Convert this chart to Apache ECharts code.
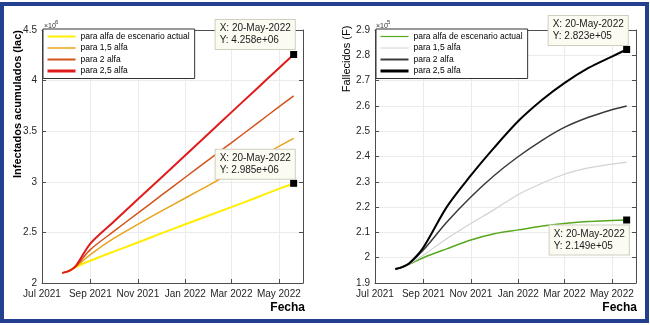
<!DOCTYPE html>
<html>
<head>
<meta charset="utf-8">
<script src="https://cdn.jsdelivr.net/npm/echarts@6/dist/echarts.min.js"></script>
<style>
html, body { margin: 0; padding: 0; background: #fff; }
#chart { width: 650px; height: 325px; }
</style>
</head>
<body>
<div id="chart"></div>
<script>
// fechas de muestreo
const fechas = ['2021-07-27', '2021-08-05', '2021-08-14', '2021-09-01', '2021-10-01', '2021-11-01', '2021-12-01',
  '2022-01-01', '2022-02-01', '2022-03-01', '2022-04-01', '2022-05-01', '2022-05-20'];

const nombres = ['para alfa de escenario actual', 'para 1,5 alfa', 'para 2 alfa', 'para 2,5 alfa'];

// infectados acumulados (x10^6)
const infActual = [2.10, 2.12, 2.16, 2.22, 2.31, 2.40, 2.49, 2.58, 2.67, 2.75, 2.84, 2.93, 2.985];
const inf15 = [2.10, 2.12, 2.165, 2.28, 2.44, 2.58, 2.71, 2.84, 2.97, 3.09, 3.22, 3.35, 3.43];
const inf2 = [2.10, 2.12, 2.17, 2.33, 2.51, 2.69, 2.865, 3.045, 3.225, 3.385, 3.565, 3.74, 3.85];
const inf25 = [2.10, 2.12, 2.175, 2.39, 2.605, 2.827, 3.04, 3.263, 3.485, 3.686, 3.908, 4.123, 4.258];

// fallecidos (x10^5)
const falActual = [1.955, 1.963, 1.975, 2.00, 2.035, 2.07, 2.095, 2.11, 2.125, 2.135, 2.143, 2.147, 2.149];
const fal15 = [1.955, 1.963, 1.976, 2.01, 2.075, 2.135, 2.19, 2.25, 2.295, 2.33, 2.355, 2.37, 2.378];
const fal2 = [1.955, 1.963, 1.977, 2.03, 2.14, 2.24, 2.325, 2.40, 2.465, 2.515, 2.555, 2.585, 2.60];
const fal25 = [1.955, 1.963, 1.978, 2.04, 2.20, 2.325, 2.435, 2.54, 2.625, 2.69, 2.75, 2.795, 2.823];

// ejes
const ticksFecha = ['2021-07-01', '2021-09-01', '2021-11-01', '2022-01-01', '2022-03-01', '2022-05-01'];
const etiquetasFecha = ['Jul 2021', 'Sep 2021', 'Nov 2021', 'Jan 2022', 'Mar 2022', 'May 2022'];
const rangoFecha = ['2021-07-01', '2022-06-01'];
const rangoInf = [2, 4.5];
const rangoFal = [1.9, 2.9];

const fuente = '"Liberation Sans", Arial, sans-serif';
const meses = ['Jan', 'Feb', 'Mar', 'Apr', 'May', 'Jun', 'Jul', 'Aug', 'Sep', 'Oct', 'Nov', 'Dec'];

function aTiempo(s) {
  const p = s.split('-').map(Number);
  return Date.UTC(p[0], p[1] - 1, p[2]);
}
const tiemposTick = ticksFecha.map(aTiempo);
const tiempos = fechas.map(aTiempo);

function fechaTexto(s) {
  const p = s.split('-').map(Number);
  return (p[2] < 10 ? '0' : '') + p[2] + '-' + meses[p[1] - 1] + '-' + p[0];
}
function expTexto(v) {
  return v.toExponential(3).replace(/e\+(\d)$/, 'e+0$1');
}

const gris = '#4d4d4d';

// eje de fechas como eje numerico (ms) con ticks fijos cada dos meses
function ejeX(grid, pos, conEtiquetas) {
  return {
    type: 'value', gridIndex: grid, position: pos,
    min: aTiempo(rangoFecha[0]), max: aTiempo(rangoFecha[1]),
    axisLine: { show: true, onZero: false, lineStyle: { color: gris, width: 1 } },
    axisTick: { show: true, inside: true, length: 4, customValues: tiemposTick, lineStyle: { color: gris } },
    axisLabel: {
      show: conEtiquetas, customValues: tiemposTick, fontSize: 10, color: '#262626', margin: 6,
      fontFamily: fuente, hideOverlap: false,
      formatter: v => etiquetasFecha[tiemposTick.indexOf(v)] || ''
    },
    splitLine: { show: conEtiquetas, lineStyle: { color: '#ebebeb', width: 1 } }
  };
}

function ejeY(grid, pos, rango, paso, conEtiquetas) {
  return {
    type: 'value', gridIndex: grid, position: pos,
    min: rango[0], max: rango[1], interval: paso,
    axisLine: { show: true, onZero: false, lineStyle: { color: gris, width: 1 } },
    axisTick: { show: true, inside: true, length: 4, lineStyle: { color: gris } },
    axisLabel: { show: conEtiquetas, fontSize: 10, color: '#262626', margin: 5, fontFamily: fuente },
    splitLine: { show: conEtiquetas, lineStyle: { color: '#ebebeb', width: 1 } }
  };
}

function serie(nombre, xi, yi, valores, color, ancho) {
  return {
    name: nombre, type: 'line', xAxisIndex: xi, yAxisIndex: yi,
    data: tiempos.map((t, i) => [t, valores[i]]),
    symbol: 'none', smooth: 0.3, silent: true,
    lineStyle: { color: color, width: ancho },
    itemStyle: { color: color }
  };
}

function marca(valores, escala, offset) {
  const n = fechas.length - 1;
  const v = valores[n];
  return {
    symbol: 'rect', symbolSize: 7, silent: true,
    itemStyle: { color: '#000' },
    label: {
      show: true, position: 'inside', align: 'left', verticalAlign: 'middle', offset: offset,
      formatter: 'X: ' + fechaTexto(fechas[n]) + '\nY: ' + expTexto(v * escala),
      backgroundColor: '#fbfbf1', borderColor: '#cfcfbf', borderWidth: 1,
      padding: [3, 4, 2, 4], lineHeight: 12, fontSize: 10, color: '#1a1a1a', fontFamily: fuente
    },
    data: [{ coord: [tiempos[n], v] }]
  };
}

const myChart = echarts.init(document.getElementById('chart'));

const sActual = serie(nombres[0], 0, 0, infActual, '#ffee00', 2);
sActual.markPoint = marca(infActual, 1e6, [-78, -19]);
const s25 = serie(nombres[3], 0, 0, inf25, '#e01b1b', 2);
s25.markPoint = marca(inf25, 1e6, [-78, -20]);

const fActual = serie('F:' + nombres[0], 2, 2, falActual, '#58a81e', 1.5);
fActual.markPoint = marca(falActual, 1e5, [-77, 20]);
const f25 = serie('F:' + nombres[3], 2, 2, fal25, '#000000', 2);
f25.markPoint = marca(fal25, 1e5, [-78, -19]);

function leyenda(izq, prefijo, anchos) {
  return {
    orient: 'vertical', left: izq, top: 29, selectedMode: false,
    itemWidth: 28, itemHeight: 10, itemGap: 2.5, itemTextGap: 3,
    padding: [3, 5, 3, 3], backgroundColor: '#fff', borderColor: '#333', borderWidth: 1,
    itemStyle: { opacity: 0 },
    textStyle: { fontSize: 8.5, color: '#000', fontFamily: fuente },
    formatter: n => n.replace(/^F:/, ''),
    data: nombres.map((n, i) => ({ name: prefijo + n, lineStyle: { width: anchos[i] } }))
  };
}

const option = {
  animation: false,
  backgroundColor: '#fff',
  grid: [
    { left: 42, right: 347, top: 30, bottom: 42 },
    { left: 375, right: 14, top: 30, bottom: 42 }
  ],
  xAxis: [ejeX(0, 'bottom', true), ejeX(0, 'top', false), ejeX(1, 'bottom', true), ejeX(1, 'top', false)],
  yAxis: [
    ejeY(0, 'left', rangoInf, 0.5, true), ejeY(0, 'right', rangoInf, 0.5, false),
    ejeY(1, 'left', rangoFal, 0.1, true), ejeY(1, 'right', rangoFal, 0.1, false)
  ],
  legend: [leyenda(43, '', [2, 1.5, 2, 3]), leyenda(376, 'F:', [1.2, 1, 2, 3])],
  series: [
    sActual,
    serie(nombres[1], 0, 0, inf15, '#e8a319', 1.5),
    serie(nombres[2], 0, 0, inf2, '#d4531b', 1.5),
    s25,
    fActual,
    serie('F:' + nombres[1], 2, 2, fal15, '#d2d2d2', 1.2),
    serie('F:' + nombres[2], 2, 2, fal2, '#3a3a3a', 1.5),
    f25
  ],
  graphic: [
    { type: 'rect', silent: true, shape: { x: 2, y: 4, width: 645, height: 317 },
      style: { fill: 'none', stroke: '#22408f', lineWidth: 4 } },
    { type: 'text', x: 18, y: 104, rotation: Math.PI / 2, silent: true,
      style: { text: 'Infectados acumulados (Iac)', font: 'bold 11px ' + fuente, fill: '#000', align: 'center', verticalAlign: 'middle' } },
    { type: 'text', x: 347, y: 59, rotation: Math.PI / 2, silent: true,
      style: { text: 'Fallecidos (F)', font: '11px ' + fuente, fill: '#000', align: 'center', verticalAlign: 'middle' } },
    { type: 'text', x: 305, y: 308, silent: true,
      style: { text: 'Fecha', font: 'bold 12px ' + fuente, fill: '#000', align: 'right', verticalAlign: 'middle' } },
    { type: 'text', x: 637, y: 308, silent: true,
      style: { text: 'Fecha', font: 'bold 12px ' + fuente, fill: '#000', align: 'right', verticalAlign: 'middle' } },
    { type: 'text', x: 44, y: 26, silent: true,
      style: { text: '×10', font: '7px ' + fuente, fill: '#333', verticalAlign: 'middle' } },
    { type: 'text', x: 55, y: 22, silent: true,
      style: { text: '6', font: '6px ' + fuente, fill: '#333', verticalAlign: 'middle' } },
    { type: 'text', x: 376, y: 26, silent: true,
      style: { text: '×10', font: '7px ' + fuente, fill: '#333', verticalAlign: 'middle' } },
    { type: 'text', x: 387, y: 22, silent: true,
      style: { text: '5', font: '6px ' + fuente, fill: '#333', verticalAlign: 'middle' } }
  ]
};

myChart.setOption(option);
</script>
</body>
</html>
